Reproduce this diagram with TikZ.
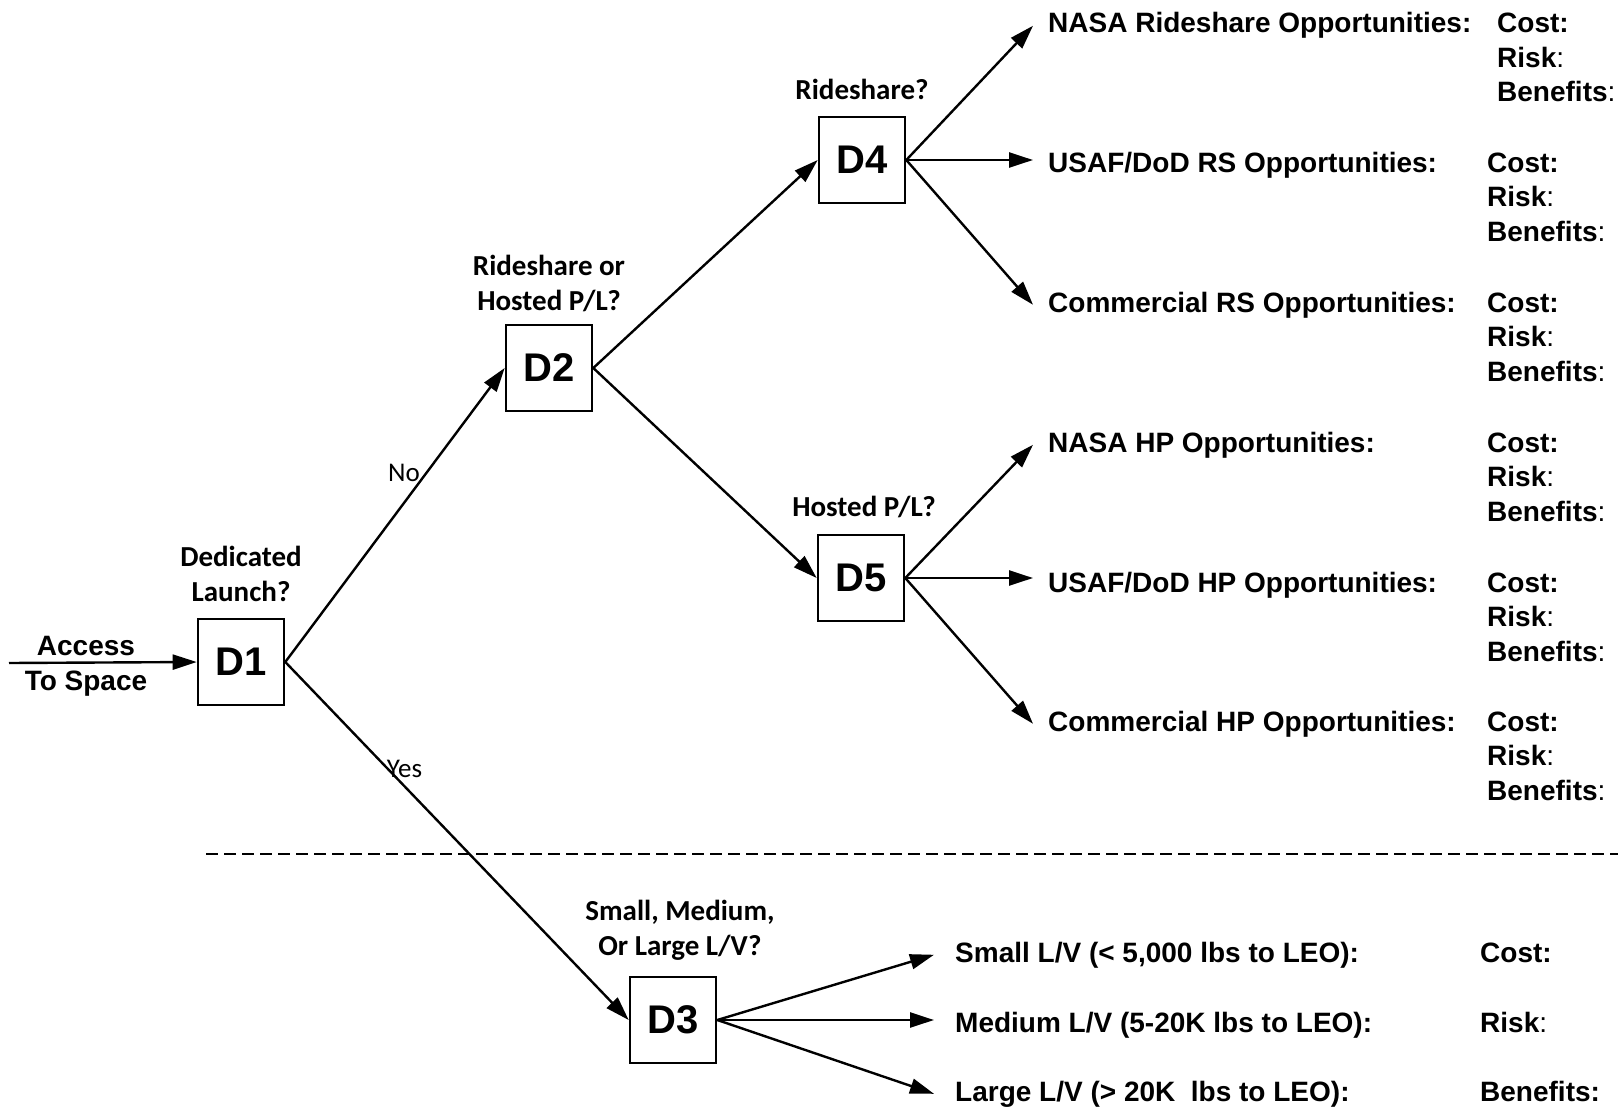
\documentclass[tikz,border=0pt]{standalone}
\usepackage{fontspec}
\setmainfont{Liberation Sans}
\newfontfamily\qfont{Carlito}
\usetikzlibrary{arrows.meta,positioning}

\begin{document}
\begin{tikzpicture}[x=1pt,y=-1pt,->,>={Triangle[length=24pt,width=15pt]},
                    line width=2.4pt,
                    dbox/.style={draw,-,line width=2.6pt,minimum width=86pt,minimum height=86pt,
                                 inner sep=0pt,font=\fontsize{40}{44}\selectfont\bfseries},
                    qlabel/.style={align=center,font=\qfont\bfseries\fontsize{29}{35}\selectfont},
                    yn/.style={font=\qfont\fontsize{27}{30}\selectfont},
                    olabel/.style={anchor=base west,inner xsep=14pt,inner ysep=0pt,
                                   font=\bfseries\fontsize{28}{32}\selectfont},
                    lvlabel/.style={olabel,inner xsep=20pt},
                    crb/.style={anchor=base west,inner sep=0pt,
                                font=\bfseries\fontsize{28}{32}\selectfont}]

  \useasboundingbox (0,0) rectangle (1618,1108);

  % decision boxes
  \node[dbox] (d1) at (241,662)  {D1};
  \node[dbox] (d2) at (549,368)  {D2};
  \node[dbox] (d4) at (862,160)  {D4};
  \node[dbox] (d5) at (861,578)  {D5};
  \node[dbox] (d3) at (673,1020) {D3};

  \node[qlabel, above=11pt of d1] {Dedicated\\Launch?};
  \node[qlabel, above=7pt of d2]  {Rideshare or\\Hosted P/L?};
  \node[qlabel, above=11pt of d4] {Rideshare?};
  \node[qlabel, above=11pt of d5, xshift=3pt] {Hosted P/L?};
  \node[qlabel, above=11pt of d3, xshift=7pt] {Small, Medium,\\Or Large L/V?};

  % outcomes
  \node[olabel] (o1) at (1033,33)  {NASA Rideshare Opportunities:};
  \node[olabel] (o2) at (1033,172) {USAF/DoD RS Opportunities:};
  \node[olabel] (o3) at (1033,312) {Commercial RS Opportunities:};
  \node[olabel] (o4) at (1033,452) {NASA HP Opportunities:};
  \node[olabel] (o5) at (1033,592) {USAF/DoD HP Opportunities:};
  \node[olabel] (o6) at (1033,731) {Commercial HP Opportunities:};

  \node[lvlabel] (l1) at (934,962)  {Small L/V (< 5,000 lbs to LEO):};
  \node[lvlabel] (l2) at (934,1032) {Medium L/V (5-20K lbs to LEO):};
  \node[lvlabel] (l3) at (934,1101) {Large L/V (> 20K\ \ lbs to LEO):};

  % cost / risk / benefits
  \node[crb] (c1) at (1496,33)    {Cost:};
  \node[crb] (r1) at (1496,67.5)  {Risk\textmd{:}};
  \node[crb] (b1) at (1496,102)   {Benefits\textmd{:}};
  \node[crb] (c2) at (1486,172)   {Cost:};
  \node[crb] (r2) at (1486,206.5) {Risk\textmd{:}};
  \node[crb] (b2) at (1486,241)   {Benefits\textmd{:}};
  \node[crb] (c3) at (1486,312)   {Cost:};
  \node[crb] (r3) at (1486,346.5) {Risk\textmd{:}};
  \node[crb] (b3) at (1486,381)   {Benefits\textmd{:}};
  \node[crb] (c4) at (1486,452)   {Cost:};
  \node[crb] (r4) at (1486,486.5) {Risk\textmd{:}};
  \node[crb] (b4) at (1486,521)   {Benefits\textmd{:}};
  \node[crb] (c5) at (1486,592)   {Cost:};
  \node[crb] (r5) at (1486,626.5) {Risk\textmd{:}};
  \node[crb] (b5) at (1486,661)   {Benefits\textmd{:}};
  \node[crb] (c6) at (1486,731)   {Cost:};
  \node[crb] (r6) at (1486,765.5) {Risk\textmd{:}};
  \node[crb] (b6) at (1486,800)   {Benefits\textmd{:}};
  \node[crb] (c7) at (1479,962)   {Cost:};
  \node[crb] (r7) at (1479,1032)  {Risk\textmd{:}};
  \node[crb] (b7) at (1479,1101)  {Benefits:};

  \coordinate (start) at (9,663);

  \draw (start) -- (d1.west)
        node[pos=0.41, above=2pt, font=\bfseries\fontsize{28}{32}\selectfont] {Access}
        node[pos=0.41, below=4pt, font=\bfseries\fontsize{28}{32}\selectfont] {To Space};

  \path (d1.east) edge node[yn, pos=0.643, left=2pt] {No} (d2.west)
                  edge node[yn, pos=0.3, right=-6pt] {Yes} (d3.west)
        (d2.east) edge (d4.west)
                  edge (d5.west)
        (d4.east) edge (o1.west)
                  edge (d4 -| o2.west)
                  edge (o3.west)
        (d5.east) edge (o4.west)
                  edge (d5 -| o5.west)
                  edge (o6.west)
        (d3.east) edge (l1.west)
                  edge (d3 -| l2.west)
                  edge (l3.west);

  \draw[-, dash pattern=on 12pt off 6pt, line width=1.8pt] (206,854) -- (1618,854);
\end{tikzpicture}
\end{document}
